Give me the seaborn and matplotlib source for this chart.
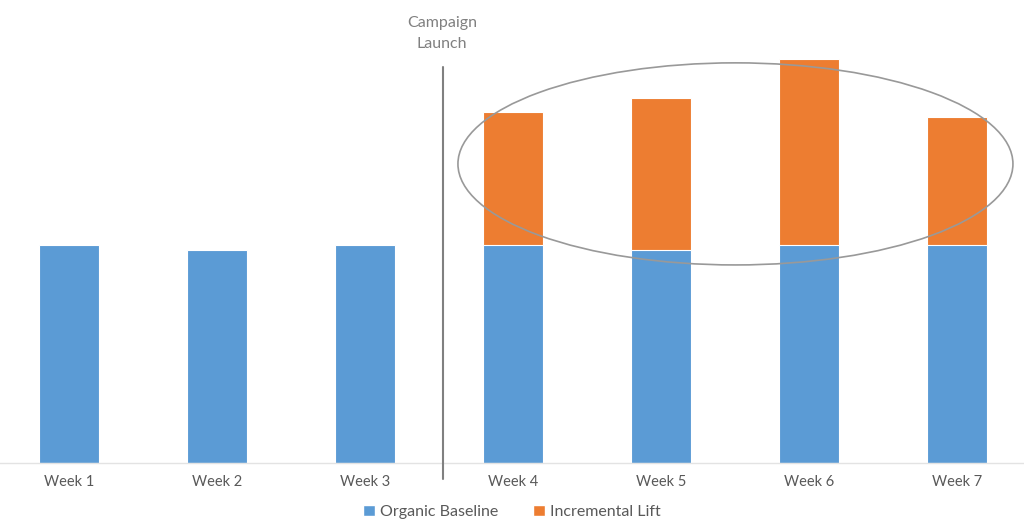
import matplotlib
matplotlib.use("Agg")
import matplotlib.pyplot as plt
from matplotlib.patches import Ellipse, Patch
import seaborn as sns
import pandas as pd
import numpy as np

weeks = ["Week 1", "Week 2", "Week 3", "Week 4", "Week 5", "Week 6", "Week 7"]
baseline = [100, 97.5, 100, 100, 97.5, 100, 100]
lift = [0, 0, 0, 61, 70, 85.5, 58.5]

BLUE = "#5B9BD5"
ORANGE = "#ED7D31"
TXT = "#595959"

sns.set_theme(style="white")
plt.rcParams['font.family'] = ['Lato', 'DejaVu Sans']

df = pd.DataFrame({"week": weeks, "baseline": baseline,
                   "total": np.array(baseline) + np.array(lift)})

fig = plt.figure(figsize=(10.24, 5.29), dpi=100)
ax = fig.add_axes([0, 66 / 529, 1, 463 / 529])

sns.barplot(data=df, x="week", y="total", color=ORANGE, width=0.4,
            edgecolor="white", linewidth=0.8, saturation=1, ax=ax)
sns.barplot(data=df, x="week", y="baseline", color=BLUE, width=0.4,
            edgecolor="white", linewidth=0.8, saturation=1, ax=ax)

ax.set_xlim(-69 / 148, (1024 - 69) / 148)
ax.set_ylim(0, 463 / 2.18)
ax.set_xlabel("")
ax.set_ylabel("")
ax.set_yticks([])
for s in ["top", "right", "left"]:
    ax.spines[s].set_visible(False)
ax.spines["bottom"].set_color("#e3e3e3")
ax.spines["bottom"].set_linewidth(1.0)
ax.tick_params(axis="x", length=0, pad=9, labelsize=10.5, labelcolor=TXT)

# Campaign launch separator
xl = 2.5 + 0.03
ax.plot([xl, xl], [-7.3, 181.7], color="#808080", lw=1.5, clip_on=False, zorder=3)
ax.text(xl - 0.01, 197, "Campaign\nLaunch", ha="center", va="center",
        fontsize=11.5, color="#808080", linespacing=1.6)

# Ellipse highlighting lift
ell = Ellipse((4.503, 137.2), width=3.75, height=92.7, fill=False,
              edgecolor="#999999", lw=1.2, zorder=4)
ax.add_patch(ell)

handles = [Patch(facecolor=BLUE, label="Organic Baseline"),
           Patch(facecolor=ORANGE, label="Incremental Lift")]
fig.legend(handles=handles, loc="center", bbox_to_anchor=(0.5, 1 - 512 / 529),
           ncol=2, frameon=False, fontsize=11.5, handlelength=0.75,
           handleheight=0.75, handletextpad=0.3, columnspacing=2.2,
           labelcolor=TXT)

fig.savefig("out.png", dpi=100)
